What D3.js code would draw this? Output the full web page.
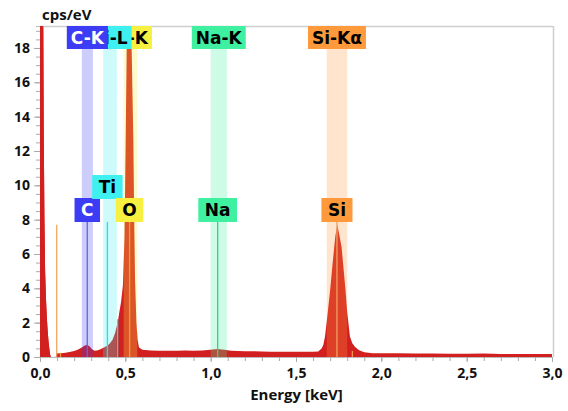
<!DOCTYPE html>
<html>
<head>
<meta charset="utf-8">
<script src="https://cdn.jsdelivr.net/npm/d3@7"></script>
<style>
  body { margin: 0; background: #fff; }
  svg { display: block; }
</style>
</head>
<body>
<svg id="chart" width="568" height="411"></svg>
<script>
// --- spectrum: energy [keV] and counts [cps/eV] ---
const energy = [0.000, 0.012, 0.018, 0.022, 0.026, 0.030, 0.035, 0.040, 0.045, 0.050, 0.055, 0.060, 0.064,
  0.092, 0.097, 0.120, 0.150, 0.180, 0.200, 0.220, 0.240, 0.260, 0.275, 0.290, 0.305, 0.320, 0.340, 0.360,
  0.380, 0.395, 0.410, 0.425, 0.440, 0.455, 0.463, 0.475, 0.486, 0.495, 0.502, 0.508, 0.515, 0.523, 0.530,
  0.537, 0.547, 0.552, 0.557, 0.565, 0.572, 0.580, 0.600, 0.650, 0.700, 0.750, 0.800, 0.850, 0.900, 0.950,
  1.000, 1.040, 1.080, 1.120, 1.200, 1.250, 1.300, 1.350, 1.400, 1.450, 1.500, 1.550, 1.600, 1.630, 1.650,
  1.660, 1.670, 1.685, 1.700, 1.715, 1.730, 1.742, 1.752, 1.767, 1.780, 1.790, 1.800, 1.816, 1.830, 1.845,
  1.870, 1.900, 1.950, 2.000, 2.100, 2.200, 2.300, 2.400, 2.500, 2.600, 2.700, 2.800, 2.900, 3.000];
const counts = [40, 40, 22, 13, 8, 5, 3.4, 2.3, 1.5, 0.9, 0.45, 0.1, 0,
  0, 0.2, 0.22, 0.25, 0.3, 0.35, 0.42, 0.52, 0.65, 0.72, 0.62, 0.45, 0.37, 0.4, 0.48,
  0.58, 0.65, 0.8, 1.0, 1.4, 2.0, 2.5, 3.2, 4.2, 7, 12.6, 18, 24, 27, 24,
  18, 12.6, 8, 4.5, 2, 1, 0.55, 0.42, 0.38, 0.36, 0.37, 0.36, 0.38, 0.37, 0.38,
  0.42, 0.46, 0.42, 0.36, 0.33, 0.34, 0.32, 0.31, 0.3, 0.31, 0.3, 0.3, 0.3, 0.32, 0.5,
  0.7, 1.2, 2.5, 3.9, 5.5, 7.0, 7.7, 7.2, 6.4, 5.0, 3.9, 2.6, 1.2, 0.8, 0.6,
  0.4, 0.27, 0.22, 0.22, 0.22, 0.2, 0.2, 0.19, 0.19, 0.2, 0.18, 0.18, 0.17, 0.17];

// --- element lines ---
const elements = ["C", "Ti", "O", "Na", "Si"];
const lineNames = ["C-K", "Ti-L", "O-K", "Na-K", "Si-Kα"];
const lineEnergy = [0.277, 0.395, 0.525, 1.041, 1.740];
const bandLow = [0.245, 0.370, 0.490, 1.000, 1.680];
const bandHigh = [0.310, 0.450, 0.570, 1.095, 1.800];
const elementColor = ["#3c3cf4", "#3ef0f0", "#f8f040", "#3ef0a0", "#ff9a3c"];
const lineColor = ["#6464d8", "#2ed8e4", "#f0a028", "#3ccc8c", "#f0a060"];

// --- extra marker lines ---
const markerEnergy = [0.098, 0.455, 0.120, 1.830];
const markerHeight = [7.7, 2.2, 0.25, 0.35];
const markerColor = ["#f0a050", "#2ed8e4", "#f0a050", "#f0a050"];

// --- axes ---
const xTicks = [0, 0.5, 1.0, 1.5, 2.0, 2.5, 3.0];
const yTicks = [0, 2, 4, 6, 8, 10, 12, 14, 16, 18];

const svg = d3.select("#chart");
const plot = { left: 40, right: 553, top: 26, bottom: 357 };

const x = d3.scaleLinear().domain([0, 3]).range([plot.left, plot.right - 1]);
const y = d3.scaleLinear().domain([0, 19.28]).range([plot.bottom, plot.top]);

svg.append("clipPath").attr("id", "clip")
  .append("rect")
  .attr("x", plot.left - 2).attr("y", plot.top)
  .attr("width", plot.right - plot.left + 2).attr("height", plot.bottom - plot.top);

const g = svg.append("g").attr("clip-path", "url(#clip)");

// spectrum area
const spec = energy.map((e, i) => [e, counts[i]]);
g.append("path")
  .datum(spec)
  .attr("fill", "#d22020")
  .attr("d", d3.area().x(d => x(d[0])).y0(y(0)).y1(d => y(d[1])));

// translucent bands
const topRowH = 23;
g.selectAll("rect.band")
  .data(elements)
  .enter().append("rect")
  .attr("class", "band")
  .attr("x", (d, i) => x(bandLow[i]))
  .attr("width", (d, i) => x(bandHigh[i]) - x(bandLow[i]))
  .attr("y", plot.top + topRowH)
  .attr("height", plot.bottom - plot.top - topRowH)
  .attr("fill", (d, i) => elementColor[i])
  .attr("opacity", 0.26);

// label rows
const rowH = 24;
const row0Top = 198;
const fontLabel = "'DejaVu Sans', Verdana, sans-serif";

// element lines from the label row to the axis
g.selectAll("line.el")
  .data(elements)
  .enter().append("line")
  .attr("x1", (d, i) => x(lineEnergy[i])).attr("x2", (d, i) => x(lineEnergy[i]))
  .attr("y1", row0Top + rowH).attr("y2", plot.bottom)
  .attr("stroke", (d, i) => lineColor[i])
  .attr("stroke-width", 1.3);

g.selectAll("line.mk")
  .data(markerEnergy)
  .enter().append("line")
  .attr("x1", d => x(d)).attr("x2", d => x(d))
  .attr("y1", (d, i) => y(markerHeight[i])).attr("y2", plot.bottom)
  .attr("stroke", (d, i) => markerColor[i])
  .attr("stroke-width", 1.2);

// frame
svg.append("line").attr("x1", plot.left).attr("x2", plot.right)
  .attr("y1", plot.top + 0.5).attr("y2", plot.top + 0.5).attr("stroke", "#cfcfcf").attr("stroke-width", 1.5);
svg.append("line").attr("x1", plot.right + 0.5).attr("x2", plot.right + 0.5)
  .attr("y1", plot.top).attr("y2", plot.bottom).attr("stroke", "#cfcfcf").attr("stroke-width", 1.5);

function textColor(c) {
  const rgb = d3.rgb(c);
  return (0.299 * rgb.r + 0.587 * rgb.g + 0.114 * rgb.b) < 140 ? "#fff" : "#000";
}

// box label helper
function boxLabel(parent, txt, cx, top, h, color, pad) {
  const lg = parent.append("g");
  const r = lg.append("rect").attr("fill", color);
  const t = lg.append("text")
    .attr("x", cx).attr("y", top + h / 2 + 6.2)
    .attr("text-anchor", "middle")
    .attr("font-family", fontLabel).attr("font-weight", "bold").attr("font-size", 17)
    .attr("fill", textColor(color))
    .text(txt);
  const w = t.node().getComputedTextLength() + pad * 2;
  r.attr("x", cx - w / 2).attr("y", top).attr("width", w).attr("height", h);
  return [cx - w / 2, cx + w / 2];
}

// top row labels, drawn from high energy to low energy
const labels = svg.append("g");
d3.range(elements.length).sort((a, b) => lineEnergy[b] - lineEnergy[a]).forEach(i => {
  boxLabel(labels, lineNames[i], x((bandLow[i] + bandHigh[i]) / 2), plot.top, topRowH, elementColor[i], 4);
});

// bottom labels, stacked upwards when they would overlap
const rows = [];
d3.range(elements.length).forEach(i => {
  const cx = x(lineEnergy[i]);
  const tmp = svg.append("text").attr("font-family", fontLabel).attr("font-weight", "bold")
    .attr("font-size", 17).text(elements[i]);
  const w = tmp.node().getComputedTextLength() + 13;
  tmp.remove();
  let r = 0;
  while ((rows[r] || []).some(s => cx - w / 2 < s[1] && cx + w / 2 > s[0])) r++;
  rows[r] = rows[r] || [];
  const span = boxLabel(labels, elements[i], cx, row0Top - r * (rowH - 1), rowH, elementColor[i], 6.5);
  rows[r].push(span);
});

// axes
const fontAxis = "'Open Sans', 'Segoe UI', sans-serif";
const xAxis = svg.append("g").attr("transform", `translate(0,${plot.bottom})`);
xAxis.call(d3.axisBottom(x).tickValues(d3.range(0, 3.01, 0.1)).tickSize(4).tickFormat(""));
xAxis.call(g2 => g2.select(".domain").attr("stroke", "#bbb"));
xAxis.selectAll(".tick line").attr("stroke", "#aaa");
const xLab = svg.append("g").attr("transform", `translate(0,${plot.bottom})`)
  .call(d3.axisBottom(x).tickValues(xTicks).tickSize(5).tickPadding(6)
    .tickFormat(d => d3.format(".1f")(d).replace(".", ",")));
xLab.select(".domain").remove();
xLab.selectAll(".tick line").attr("stroke", "#aaa");
xLab.selectAll("text").attr("font-family", fontAxis).attr("font-weight", "bold")
  .attr("font-size", 14).attr("fill", "#111");

const yAxis = svg.append("g").attr("transform", `translate(${plot.left},0)`);
yAxis.call(d3.axisLeft(y).tickValues(d3.range(0, 19.1, 0.5)).tickSize(4).tickFormat(""));
yAxis.select(".domain").attr("stroke", "#bbb");
yAxis.selectAll(".tick line").attr("stroke", "#aaa");
const yLab = svg.append("g").attr("transform", `translate(${plot.left},0)`)
  .call(d3.axisLeft(y).tickValues(yTicks).tickSize(6).tickPadding(4));
yLab.select(".domain").remove();
yLab.selectAll(".tick line").attr("stroke", "#aaa");
yLab.selectAll("text").attr("font-family", fontAxis).attr("font-weight", "bold")
  .attr("font-size", 14).attr("fill", "#111");

// redraw spectrum edge over the left axis line
svg.append("g").attr("clip-path", "url(#clip)")
  .append("path").datum(spec.slice(0, 13))
  .attr("fill", "#d22020")
  .attr("d", d3.area().x(d => x(d[0])).y0(y(0)).y1(d => y(d[1])));

// axis titles
svg.append("text").attr("x", 42).attr("y", 20)
  .attr("font-family", fontAxis).attr("font-weight", "bold").attr("font-size", 15).attr("fill", "#111")
  .text("cps/eV");
svg.append("text").attr("x", (plot.left + plot.right) / 2).attr("y", 400)
  .attr("text-anchor", "middle")
  .attr("font-family", fontAxis).attr("font-weight", "bold").attr("font-size", 15).attr("fill", "#111")
  .text("Energy [keV]");
</script>
</body>
</html>
